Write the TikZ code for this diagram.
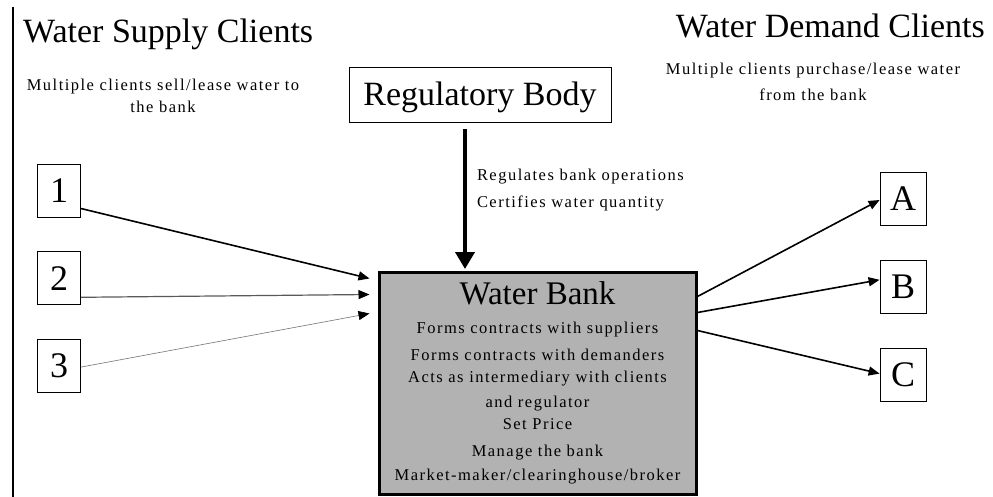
\documentclass[tikz,border=0pt]{standalone}
\usepackage{fontspec}
\setmainfont{Liberation Serif}
\newfontfamily\spacedfont[LetterSpace=9]{Liberation Serif}
\usetikzlibrary{arrows.meta,positioning}
\tikzset{>={Triangle[length=11pt,width=9pt,color=black,fill=black]}}
\tikzset{
	heading/.style={inner sep=0pt,font=\fontsize{34}{40}\selectfont},
	note/.style={inner sep=0pt,align=center,font=\spacedfont\fontsize{16.5}{22}\selectfont},
	client/.style={draw,line width=0.8pt,minimum width=43pt,minimum height=53pt,inner sep=0pt,font=\fontsize{36}{40}\selectfont},
	bank/.style={draw,line width=3pt,fill=black!30,minimum width=317pt,minimum height=222pt},
	regbox/.style={draw,line width=0.8pt,minimum width=262pt,minimum height=55pt,inner sep=0pt,text height=22pt,text depth=0pt,font=\fontsize{34}{40}\selectfont}
}

\begin{document}
\begin{tikzpicture}[x=1pt,y=-1pt]
	\useasboundingbox (0,0) rectangle (993,497);
	\draw[line width=2pt] (13,7) -- (13,497);
	\node[heading,anchor=base west] (supply) at (23,43) {Water Supply Clients};
	\node[heading,anchor=base east] (demand) at (985,38) {Water Demand Clients};
	\node[note,anchor=north] (sellers) at (163,78.5) {Multiple clients sell/lease water to\\the bank};
	\node[note,anchor=north] (buyers) at (813,62.5) {Multiple clients purchase/lease water\\[4pt]from the bank};
	\node[regbox] (reg) at (480,94.5) {Regulatory Body};
	\node[client] (s1) at (59,190.5) {1};
	\node[client] (s2) [below=34pt of s1] {2};
	\node[client] (s3) [below=34pt of s2] {3};
	\node[client,minimum width=46pt] (dA) at (903,199) {A};
	\node[client,minimum width=46pt] (dB) [below=34pt of dA] {B};
	\node[client,minimum width=46pt] (dC) [below=34pt of dB] {C};
	\node[bank] (bank) at (537.5,383) {};
	\node[heading,font=\fontsize{33}{40}\selectfont] (title) [below=10.5pt of bank.north] {Water Bank};
	\node[note,font=\spacedfont\fontsize{16.5}{24}\selectfont] (duties) [below=17.5pt of title] {Forms contracts with suppliers\\[3pt]Forms contracts with demanders\\[-2pt]Acts as intermediary with clients\\[1pt]and regulator\\[-2pt]Set Price\\[3pt]Manage the bank\\Market-maker/clearinghouse/broker};
	\draw[->,line width=1.6pt] ([yshift=-18pt]s1.east) -- ([xshift=-8pt,yshift=-8pt]bank.north west);
	\draw[->,line width=1.2pt,draw=black!65] ([yshift=-19pt]s2.east) -- ([xshift=-8pt,yshift=-24pt]bank.north west);
	\draw[->,line width=0.6pt,draw=black!55] ([yshift=-1pt]s3.east) -- ([xshift=-8pt,yshift=-43pt]bank.north west);
	\draw[->,line width=4pt,>={Triangle[length=17pt,width=19pt]},shorten >=1.5pt] ([xshift=-15pt,yshift=-7pt]reg.south) -- ([xshift=-15pt]reg.south |- bank.north) node[note,align=left,right=10pt,pos=0.43] (regtext) {Regulates bank operations\\[5pt]Certifies water quantity};
	\draw[->,line width=1.6pt] ([yshift=-26pt]bank.north east) -- ([yshift=-1pt]dA.west);
	\draw[->,line width=1.6pt] ([yshift=-42pt]bank.north east) -- ([yshift=7pt]dB.west);
	\draw[->,line width=1.6pt] ([yshift=-60pt]bank.north east) -- ([yshift=1pt]dC.west);
\end{tikzpicture}
\end{document}
